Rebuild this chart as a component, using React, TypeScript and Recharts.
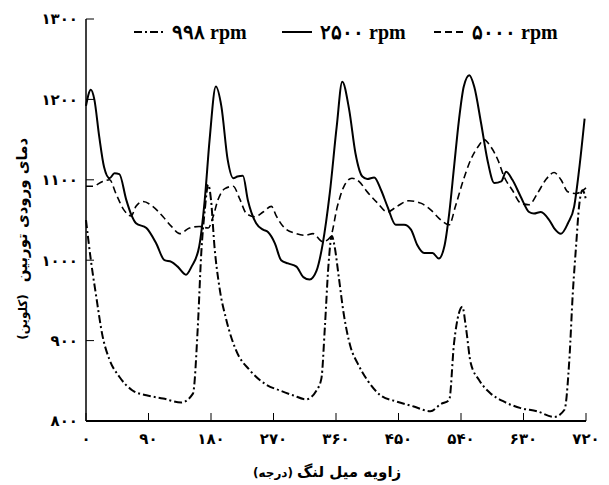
import { LineChart, Line, XAxis, YAxis, Legend, Label } from 'recharts'

// crank angle (deg) / turbine inlet temperature (K)
const deg998 = [0, 7, 14, 24, 34, 48, 67, 87, 111, 137, 154, 161, 166, 171, 176, 180, 185, 192, 202, 216, 236, 260, 279, 298, 317, 332, 339, 344, 349, 354, 358, 364, 371, 381, 391, 405, 424, 448, 472, 496, 511, 523, 530, 537, 542, 547, 554, 566, 583, 602, 626, 650, 674, 689, 696, 701, 706, 710, 715, 720]
const temp998 = [1050, 1000, 959, 905, 876, 855, 838, 832, 828, 823, 834, 917, 1009, 1062, 1094, 1075, 1017, 967, 926, 888, 863, 845, 838, 832, 827, 838, 853, 917, 992, 1030, 1017, 979, 934, 892, 872, 851, 832, 824, 818, 812, 821, 826, 897, 934, 942, 917, 872, 851, 834, 824, 816, 812, 805, 814, 876, 959, 1021, 1067, 1087, 1075]

const deg2500 = [0, 7, 12, 19, 26, 34, 41, 48, 58, 65, 72, 87, 101, 113, 123, 132, 144, 152, 163, 171, 178, 187, 195, 204, 212, 218, 226, 233, 245, 255, 262, 272, 281, 291, 303, 313, 322, 332, 341, 351, 361, 369, 379, 388, 398, 405, 415, 425, 434, 446, 458, 468, 477, 487, 499, 508, 516, 523, 530, 537, 544, 552, 559, 569, 578, 588, 598, 605, 614, 626, 638, 645, 655, 667, 674, 684, 694, 703, 710, 718]
const temp2500 = [1192, 1212, 1200, 1154, 1116, 1102, 1108, 1107, 1075, 1057, 1046, 1040, 1021, 1000, 998, 992, 982, 992, 1017, 1075, 1150, 1216, 1191, 1125, 1102, 1104, 1105, 1075, 1046, 1038, 1035, 1021, 1000, 996, 992, 979, 976, 987, 1021, 1083, 1166, 1222, 1187, 1133, 1104, 1101, 1103, 1087, 1067, 1044, 1044, 1038, 1019, 1009, 1009, 1002, 1017, 1058, 1116, 1174, 1216, 1230, 1216, 1170, 1125, 1096, 1098, 1110, 1100, 1079, 1060, 1058, 1060, 1050, 1040, 1033, 1046, 1067, 1112, 1176]

const deg5000 = [0, 10, 24, 34, 43, 55, 65, 72, 82, 96, 111, 123, 135, 149, 163, 176, 183, 190, 200, 212, 221, 231, 243, 255, 267, 274, 286, 303, 315, 327, 341, 352, 362, 371, 383, 393, 405, 420, 434, 448, 465, 482, 496, 511, 523, 532, 542, 554, 566, 573, 583, 593, 602, 614, 626, 638, 650, 662, 674, 684, 694, 706, 720]
const temp5000 = [1092, 1092, 1098, 1100, 1083, 1062, 1055, 1067, 1073, 1067, 1054, 1042, 1033, 1040, 1042, 1040, 1054, 1075, 1089, 1092, 1077, 1058, 1054, 1060, 1067, 1055, 1040, 1033, 1031, 1033, 1023, 1029, 1067, 1091, 1102, 1098, 1085, 1071, 1060, 1067, 1074, 1071, 1063, 1050, 1044, 1067, 1096, 1125, 1143, 1150, 1141, 1125, 1104, 1087, 1071, 1069, 1083, 1100, 1109, 1100, 1085, 1083, 1090]

const xTicks = [0, 90, 180, 270, 360, 450, 540, 630, 720]
const yTicks = [800, 900, 1000, 1100, 1200, 1300]
const seriesNames = ['۹۹۸ rpm', '۲۵۰۰ rpm', '۵۰۰۰ rpm']
const dashes = ['8 3 2 3', undefined, '7 4']

const toFa = (v: number) => String(v).replace(/\d/g, (d) => '۰۱۲۳۴۵۶۷۸۹'[+d])
const pairs = (xs: number[], ys: number[]) => xs.map((deg, i) => ({ deg, temp: ys[i] }))

const tickStyle = { fill: '#000', fontSize: 15, fontWeight: 'bold', fontFamily: '"DejaVu Sans", sans-serif' }
const faFont = '"DejaVu Sans", sans-serif'

function LegendRow() {
  return (
    <div style={{ display: 'flex', fontFamily: '"Liberation Serif", serif', fontWeight: 'bold', fontSize: 20, color: '#000', lineHeight: '24px' }}>
      {seriesNames.map((name, i) => (
        <div key={name} style={{ display: 'flex', alignItems: 'center', width: i === 0 ? 148 : 152 }}>
          <svg width={30} height={10}>
            <line x1={0} y1={5} x2={30} y2={5} stroke="#000" strokeWidth={2} strokeDasharray={dashes[i]} />
          </svg>
          <span style={{ marginLeft: 8 }}>{name}</span>
        </div>
      ))}
    </div>
  )
}

export default function App() {
  return (
    <div style={{ position: 'absolute', left: 0, top: 0, background: '#fff' }}>
      <LineChart width={609} height={485} margin={{ top: 19, right: 23, bottom: 34, left: 26 }}>
        <XAxis
          type="number"
          dataKey="deg"
          domain={[0, 720]}
          ticks={xTicks}
          tickFormatter={toFa}
          tickSize={-8}
          tickMargin={20}
          height={30}
          axisLine={{ stroke: '#000', strokeWidth: 2 }}
          tickLine={{ stroke: '#000', strokeWidth: 1 }}
          tick={tickStyle}
          allowDuplicatedCategory={false}
        >
          <Label
            content={() => (
              <g fontFamily={faFont} fontWeight="bold" fill="#000">
                <text x={297} y={477} textAnchor="start" fontSize={15}>زاویه میل لنگ</text>
                <text x={293} y={477} textAnchor="end" fontSize={12}>(درجه)</text>
              </g>
            )}
          />
        </XAxis>
        <YAxis
          type="number"
          domain={[800, 1300]}
          ticks={yTicks}
          tickFormatter={toFa}
          tickSize={-8}
          tickMargin={16}
          width={60}
          axisLine={{ stroke: '#000', strokeWidth: 1.5 }}
          tickLine={{ stroke: '#000', strokeWidth: 1 }}
          tick={tickStyle}
        >
          <Label
            content={() => (
              <g fontFamily={faFont} fontWeight="bold" fill="#000">
                <text x={27} y={210} transform="rotate(-90 27 210)" textAnchor="middle" fontSize={15}>دمای ورودی توربین</text>
                <text x={27} y={317} transform="rotate(-90 27 317)" textAnchor="middle" fontSize={12}>(کلوین)</text>
              </g>
            )}
          />
        </YAxis>
        <Legend verticalAlign="middle" align="center" layout="horizontal" content={() => <LegendRow />} wrapperStyle={{ top: 20, left: 134, width: 470 }} />
        <Line data={pairs(deg998, temp998)} dataKey="temp" name={seriesNames[0]} type="monotone" stroke="#000" strokeWidth={2} strokeDasharray={dashes[0]} dot={false} isAnimationActive={false} />
        <Line data={pairs(deg2500, temp2500)} dataKey="temp" name={seriesNames[1]} type="monotone" stroke="#000" strokeWidth={2} dot={false} isAnimationActive={false} />
        <Line data={pairs(deg5000, temp5000)} dataKey="temp" name={seriesNames[2]} type="monotone" stroke="#000" strokeWidth={1.6} strokeDasharray={dashes[2]} dot={false} isAnimationActive={false} />
      </LineChart>
    </div>
  )
}
